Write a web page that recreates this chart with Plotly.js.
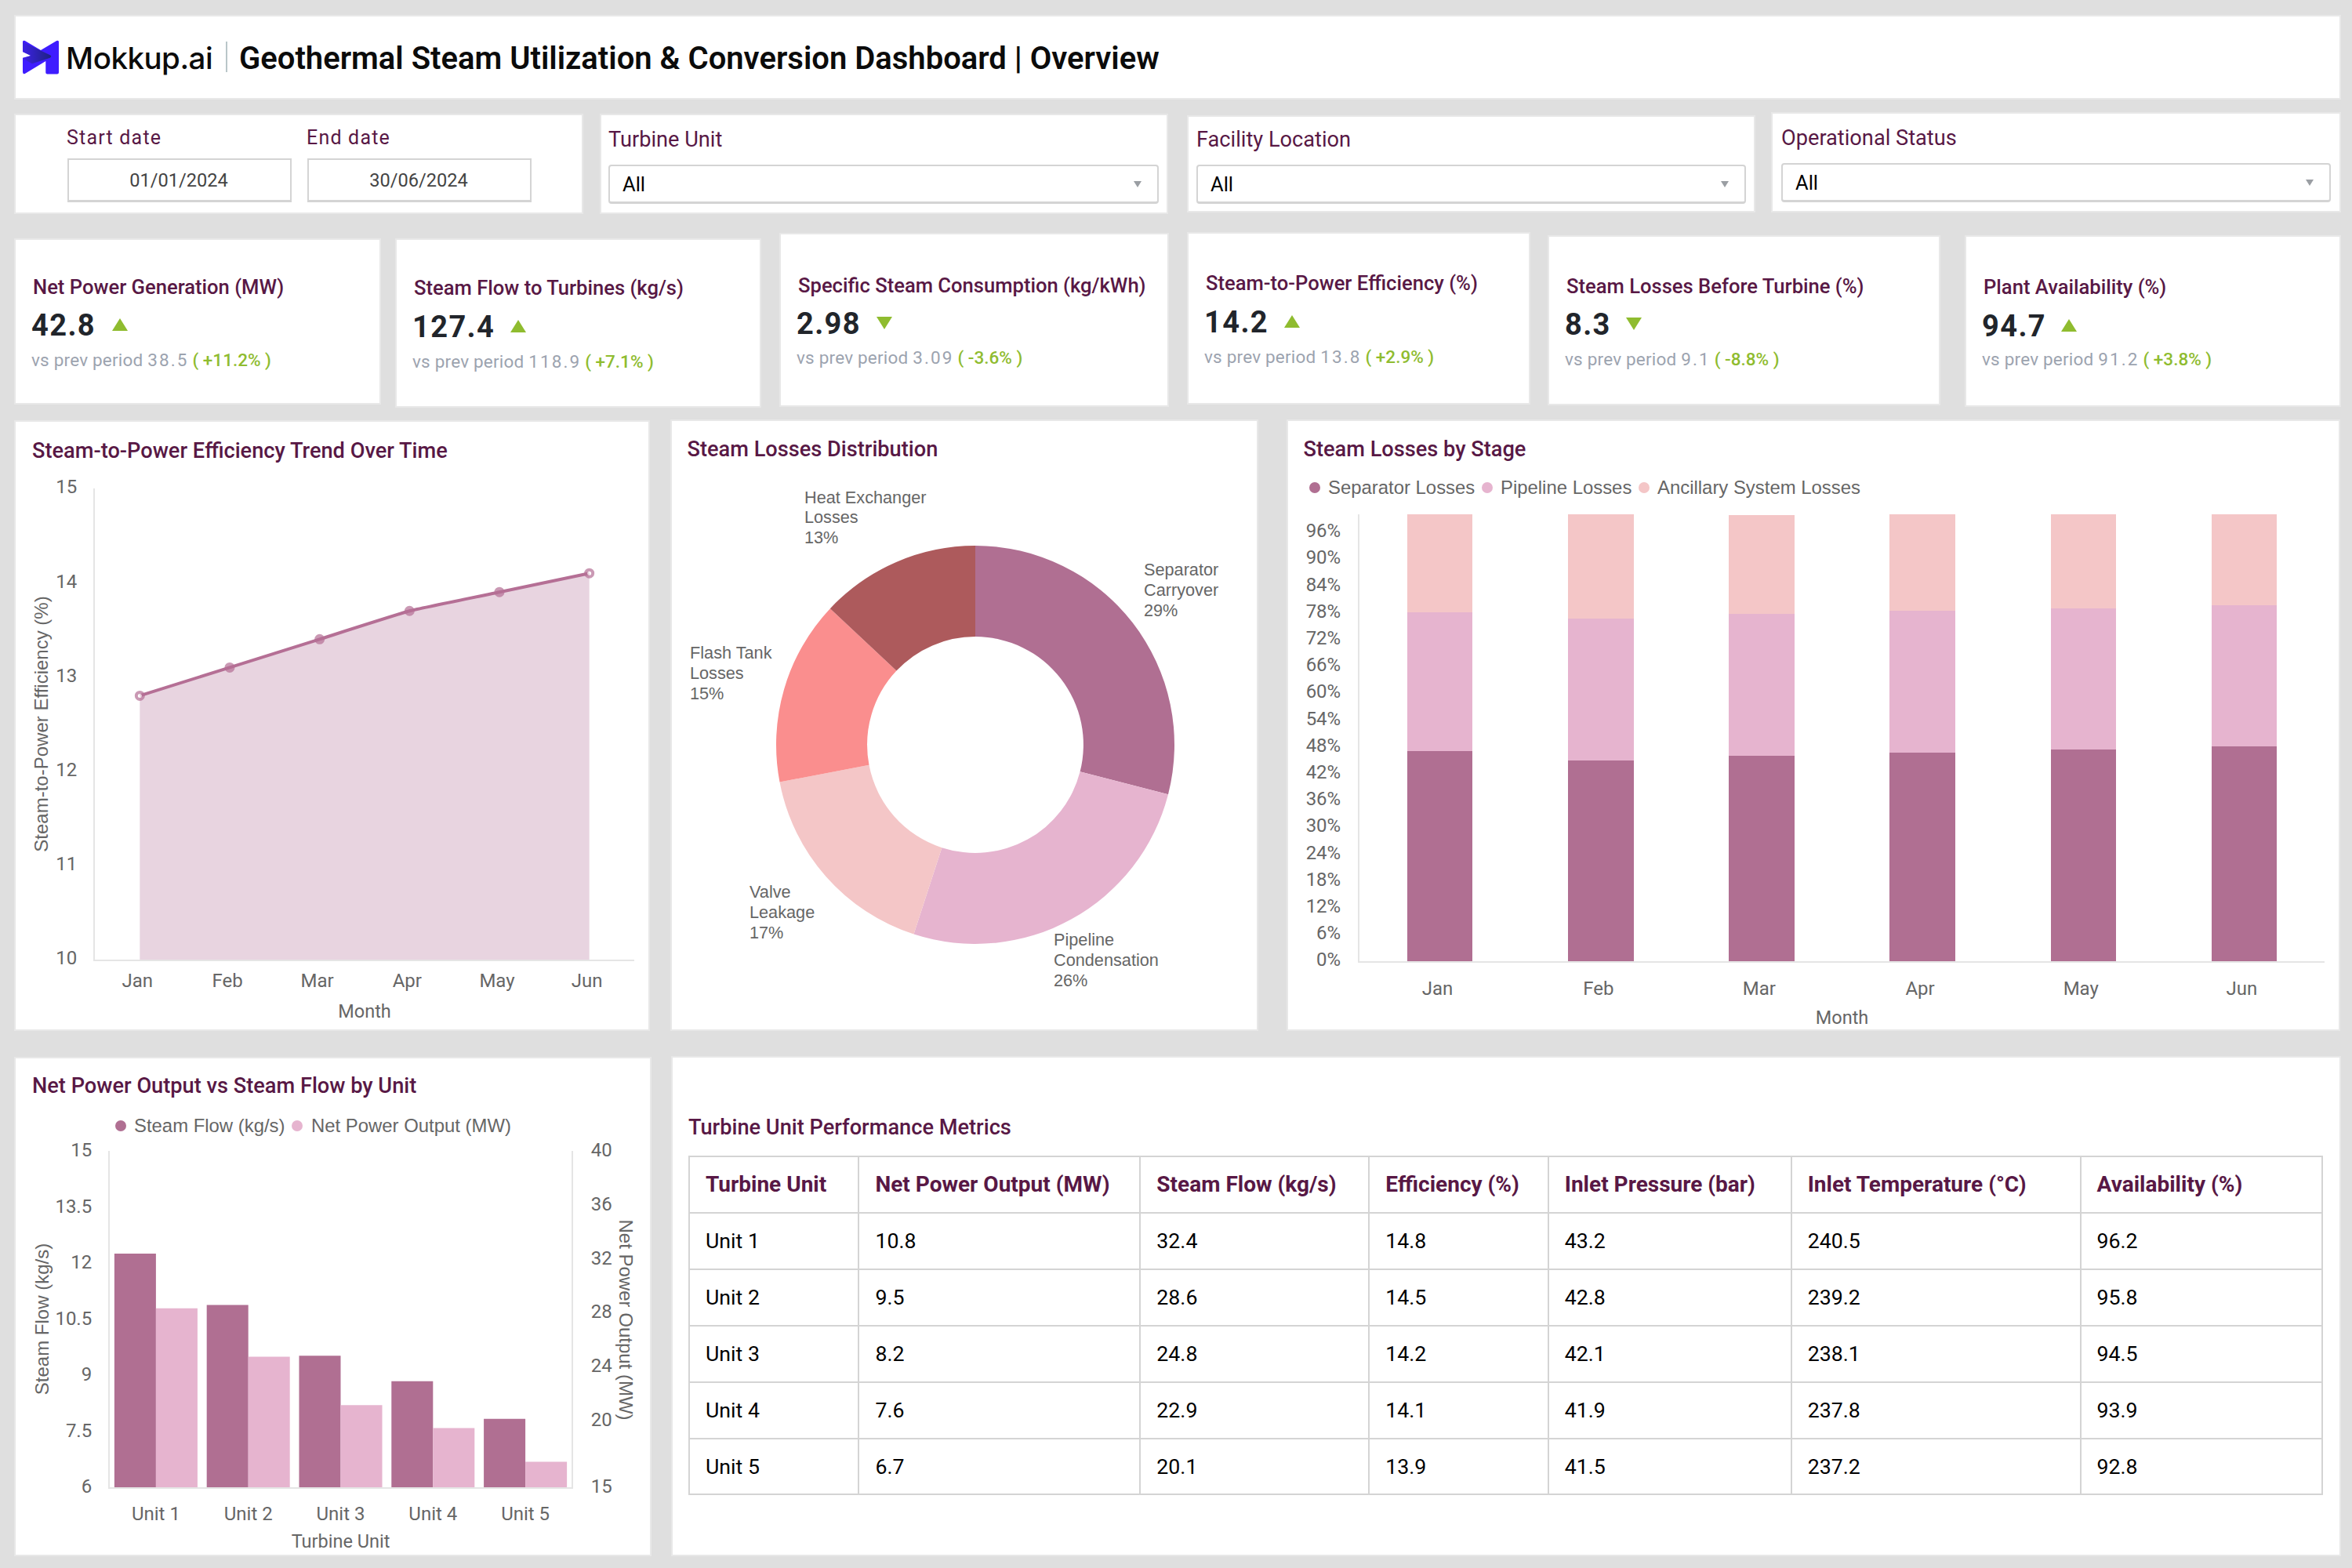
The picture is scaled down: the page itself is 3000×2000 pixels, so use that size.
<!DOCTYPE html>
<html>
<head>
<meta charset="utf-8">
<script src="https://cdn.plot.ly/plotly-3.0.1.min.js"></script>
<style>
html,body{margin:0;padding:0;width:3000px;height:2000px;overflow:hidden;background:#dfdfdf;font-family:Roboto,sans-serif}
.card{position:absolute;background:#fff;border:2px solid #e8e8e8;box-sizing:border-box}
.t{position:absolute;white-space:nowrap;line-height:1;transform:translateY(-50%)}
.box{position:absolute;background:#fff;box-sizing:border-box;border:2px solid #d4d4d4;border-bottom-width:3px}
.plot{position:absolute}
.dot{position:absolute;width:14px;height:14px;border-radius:50%;transform:translate(-50%,-50%)}
.tri{position:absolute;width:0;height:0;border-left:10px solid transparent;border-right:10px solid transparent}
</style>
</head>
<body>
<script>
// ---- data ----
const months = ["Jan","Feb","Mar","Apr","May","Jun"];
const efficiency = [12.8,13.1,13.4,13.7,13.9,14.1];
const lossLabels = ["Separator<br>Carryover","Pipeline<br>Condensation","Valve<br>Leakage","Flash Tank<br>Losses","Heat Exchanger<br>Losses"];
const lossShares = [29,26,17,15,13];
const separatorLosses = [47.0,44.9,45.9,46.7,47.4,48.1];
const pipelineLosses = [31.0,31.8,31.8,31.7,31.6,31.5];
const ancillaryLosses = [22.0,23.3,22.1,21.6,21.0,20.4];
const units = ["Unit 1","Unit 2","Unit 3","Unit 4","Unit 5"];
const steamFlowBars = [12.25,10.88,9.52,8.84,7.83];
const netPowerBars = [28.3,24.7,21.1,19.4,16.9];
const tableHeaders = ["Turbine Unit","Net Power Output (MW)","Steam Flow (kg/s)","Efficiency (%)","Inlet Pressure (bar)","Inlet Temperature (°C)","Availability (%)"];
const tableUnits = ["Unit 1","Unit 2","Unit 3","Unit 4","Unit 5"];
const tableNetPower = ["10.8","9.5","8.2","7.6","6.7"];
const tableSteamFlow = ["32.4","28.6","24.8","22.9","20.1"];
const tableEfficiency = ["14.8","14.5","14.2","14.1","13.9"];
const tablePressure = ["43.2","42.8","42.1","41.9","41.5"];
const tableTemperature = ["240.5","239.2","238.1","237.8","237.2"];
const tableAvailability = ["96.2","95.8","94.5","93.9","92.8"];
const kpiNames = ["Net Power Generation (MW)","Steam Flow to Turbines (kg/s)","Specific Steam Consumption (kg/kWh)","Steam-to-Power Efficiency (%)","Steam Losses Before Turbine (%)","Plant Availability (%)"];
const kpiValues = ["42.8","127.4","2.98","14.2","8.3","94.7"];
const kpiPrev = ["38.5","118.9","3.09","13.8","9.1","91.2"];
const kpiChange = ["+11.2%","+7.1%","-3.6%","+2.9%","-8.8%","+3.8%"];
const kpiUp = [true,true,false,true,false,true];
const filterNames = ["Turbine Unit","Facility Location","Operational Status"];
const filterValue = "All";
const startDate = "01/01/2024", endDate = "30/06/2024";
const dashTitle = "Geothermal Steam Utilization & Conversion Dashboard | Overview";

// ---- colours ----
const PLUM="#581845", GREY="#666666", C1="#b06f92", C2="#e6b4cf", C3="#f4c6c7", C4="#fa8e8e", C5="#ad5a5c", GREEN="#8fbc2f";

// ---- layout helpers ----
const el=(cls,css,html)=>{const d=document.createElement('div');d.className=cls;Object.assign(d.style,css);if(html!==undefined)d.innerHTML=html;document.body.appendChild(d);return d;};
const card=(x0,y0,x1,y1)=>el('card',{left:x0+'px',top:y0+'px',width:(x1-x0)+'px',height:(y1-y0)+'px'});
const txt=(x,y,s,css)=>el('t',Object.assign({left:x+'px',top:y+'px'},css),s);

// header
card(18,19,2986,127);
const logo=el('plot',{left:'29px',top:'50px',width:'46px',height:'46px'},
 '<svg width="46" height="46" viewBox="30 32 132 132" xmlns="http://www.w3.org/2000/svg"><defs><linearGradient id="lg" x1="0" x2="1"><stop offset="0" stop-color="#3d22e6"/><stop offset="1" stop-color="#1d2280"/></linearGradient></defs>'+
 '<path d="M30 42 Q30 34 38 38 L96 72 L154 38 Q162 34 162 42 L162 154 Q162 160 156 160 L120 160 Q114 160 114 154 L114 112 L38 158 Q30 162 30 152 L30 100 L60 92 L30 78 Z" fill="#3f1dff"/>'+
 '<path d="M30 42 L130 90 Q138 95 130 100 L64 122 L30 102 L60 92 L30 78 Z" fill="url(#lg)"/></svg>');
txt(84,74,"Mokkup.ai",{font:"500 38.5px Inter,Roboto,sans-serif",color:"#0b0b0b",letterSpacing:"-0.5px"});
el('plot',{left:'288px',top:'53px',width:'2px',height:'39px',background:'#b9c6c9'});
txt(305,74,dashTitle,{font:"600 40px Roboto",color:"#0b0b0b"});

// filters
card(18,145,744,273); card(765,145,1490,273); card(1514,147,2239,271); card(2259,143,2986,271);
txt(85,175,"Start date",{font:"400 25px Roboto",color:PLUM,letterSpacing:"1.2px"});
txt(391,175,"End date",{font:"400 25px Roboto",color:PLUM,letterSpacing:"1.2px"});
[[86,startDate],[392,endDate]].forEach(([x,s])=>{
  el('box',{left:x+'px',top:'202px',width:'286px',height:'56px'});
  txt(x+142,230,s,{font:"400 23.6px Roboto",color:"#444",transform:"translate(-50%,-50%)"});
});
[[776,178,210,1478],[1526,178,210,2227],[2272,176,208,2973]].forEach(([x,ly,by,xr],i)=>{
  txt(x,ly,filterNames[i],{font:"400 27.2px Roboto",color:PLUM});
  el('box',{left:x+'px',top:by+'px',width:(xr-x)+'px',height:'50px',borderRadius:'4px'});
  txt(x+18,by+25,filterValue,{font:"400 25.5px Roboto",color:"#000"});
  el('tri',{left:(xr-32)+'px',top:(by+21)+'px',borderLeftWidth:'5px',borderRightWidth:'5px',borderTop:'8px solid #9a9ea3'});
});

// KPI cards
const kpiRect=[[18,304,486,516],[504,304,971,520],[994,297,1491,519],[1514,296,1952,516],[1974,300,2475,517],[2506,300,2986,519]];
const kpiX=[42,528,1018,1538,1998,2530];
const kpiLabelY=[365.5,367,364,361,364.5,366];
const kpiValueY=[415,417,413,411,414,416];
const kpiSubY=[458.5,460.5,455.5,454.5,457.5,457.5];
const kpiArrowX=[143,651,1118,1638,2074,2629];
kpiNames.forEach((n,i)=>{
  card(...kpiRect[i]);
  const x=kpiX[i];
  txt(x,kpiLabelY[i],n,{font:"500 25.6px Roboto",color:PLUM});
  txt(x-2,kpiValueY[i],kpiValues[i],{font:"700 38px Roboto",color:"#21252b",letterSpacing:"1.4px"});
  el('tri',Object.assign({left:kpiArrowX[i]+'px',top:(kpiValueY[i]-9)+'px'},
     kpiUp[i]?{borderBottom:'16px solid '+GREEN}:{borderTop:'16px solid '+GREEN}));
  txt(x-2,kpiSubY[i],'vs prev period <span style="letter-spacing:2.1px">'+kpiPrev[i]+'</span><span style="color:'+GREEN+';font-weight:500;letter-spacing:0;margin-left:5px">( '+kpiChange[i]+' )</span>',
      {font:"400 22.5px Roboto",color:"#9ca3af",letterSpacing:"0.2px"});
});

// chart panels
const P1=[18,536,829,1315], P2=[855,535,1605,1315], P3=[1641,535,2985,1315], P4=[18,1348,831,1985], P5=[856,1347,2986,1985];
[P1,P2,P3,P4,P5].forEach(p=>card(...p));
const plotDiv=p=>el('plot',{left:p[0]+'px',top:p[1]+'px',width:(p[2]-p[0])+'px',height:(p[3]-p[1])+'px'});
const titleOf=(text,p,x,y)=>({text:text,x:(x-p[0])/(p[2]-p[0]),xref:'container',xanchor:'left',y:1-(y-p[1])/(p[3]-p[1]),yref:'container',yanchor:'middle',font:{family:'Roboto',size:27.2,weight:500,color:PLUM}});
const axisBase={showgrid:false,zeroline:false,showline:true,linecolor:'#e5e5e5',linewidth:2,tickfont:{family:'Roboto',size:24,color:GREY},ticks:'outside',tickcolor:'rgba(0,0,0,0)'};
const axTitleA=(t,st)=>({text:t,font:{family:'"Liberation Sans"',size:24,color:GREY},standoff:st});
const axTitleR=(t,st)=>({text:t,font:{family:'Roboto',size:23.5,color:GREY},standoff:st});
const cfg={displayModeBar:false,staticPlot:true};
const baseLayout=p=>({width:p[2]-p[0],height:p[3]-p[1],paper_bgcolor:'rgba(0,0,0,0)',plot_bgcolor:'rgba(0,0,0,0)',showlegend:false,font:{family:'Roboto',color:GREY}});

// Efficiency trend
Plotly.newPlot(plotDiv(P1),[{
  type:'scatter',mode:'lines+markers',x:months,y:efficiency,fill:'tozeroy',fillcolor:'#e8d4e0',
  line:{color:'#b56f95',width:4,shape:'spline',smoothing:0.25},
  marker:{size:[9,10,10,10,10,9],color:['#ffffff','#b56f95','#b56f95','#b56f95','#b56f95','#ffffff'],line:{color:'#b56f95',width:[4,3,3,3,3,4]}}
}],Object.assign(baseLayout(P1),{
  title:titleOf("Steam-to-Power Efficiency Trend Over Time",P1,41,574),
  margin:{l:121-P1[0],r:P1[2]-809,t:623-P1[1],b:P1[3]-1224},
  xaxis:Object.assign({},axisBase,{type:'category',ticklen:4,ticklabelshift:-3,range:[-0.5,5.5],title:axTitleR("Month",18)}),
  yaxis:Object.assign({},axisBase,{range:[10,15],dtick:1,ticklen:16,ticklabelshift:-2,title:axTitleA("Steam-to-Power Efficiency (%)",3)})
}),cfg);

// Donut
const dCx=1244,dCy=950,dR=254,P2w=P2[2]-P2[0],P2h=P2[3]-P2[1];
const labelAnchors=[[1458,726.5],[1342.5,1198.5],[955,1137.5],[879,832.5],[1025,634]];
const pieAnn=[];
lossLabels.forEach((l,i)=>{
  l.split('<br>').concat([lossShares[i]+'%']).forEach((line,j)=>{
    pieAnn.push({text:line,xref:'paper',yref:'paper',xanchor:'left',yanchor:'middle',showarrow:false,align:'left',borderpad:0,
      x:(labelAnchors[i][0]-P2[0])/P2w,y:1-(labelAnchors[i][1]+j*26-P2[1])/P2h,font:{family:'"Liberation Sans"',size:21.7,color:'#666666'}});
  });
});
Plotly.newPlot(plotDiv(P2),[{
  type:'pie',labels:lossLabels,values:lossShares,hole:0.543,sort:false,direction:'clockwise',rotation:0,textinfo:'none',
  marker:{colors:[C1,C2,C3,C4,C5],line:{width:0}},
  domain:{x:[(dCx-dR-P2[0])/P2w,(dCx+dR-P2[0])/P2w],y:[1-(dCy+dR-P2[1])/P2h,1-(dCy-dR-P2[1])/P2h]}
}],Object.assign(baseLayout(P2),{
  title:titleOf("Steam Losses Distribution",P2,876.5,572),
  margin:{l:0,r:0,t:0,b:0},annotations:pieAnn
}),cfg);

// Stacked bars
const barC=(n,y,c)=>({type:'bar',name:n,x:months,y:y,marker:{color:c,line:{width:0}}});
Plotly.newPlot(plotDiv(P3),[barC("Separator Losses",separatorLosses,C1),barC("Pipeline Losses",pipelineLosses,C2),barC("Ancillary System Losses",ancillaryLosses,C3)],
Object.assign(baseLayout(P3),{
  title:titleOf("Steam Losses by Stage",P3,1662.5,572),
  margin:{l:1734-P3[0],r:P3[2]-2965,t:656-P3[1],b:P3[3]-1226},
  barmode:'stack',bargap:0.593,
  xaxis:Object.assign({},axisBase,{type:'category',ticklen:12,ticklabelshift:-3,title:axTitleR("Month",16)}),
  yaxis:Object.assign({},axisBase,{range:[0,100],dtick:6,ticksuffix:'%',ticklen:17,ticklabelshift:-2})
}),cfg);
const legend=(items)=>items.forEach(([dx,tx,y,c,s])=>{
  el('dot',{left:dx+'px',top:y+'px',background:c});
  txt(tx,y,s,{font:'400 23.9px "Liberation Sans"',color:GREY});
});
legend([[1677,1694,621.5,C1,"Separator Losses"],[1897,1914,621.5,C2,"Pipeline Losses"],[2097,2114,621.5,C3,"Ancillary System Losses"]]);

// Grouped bars on two axes
Plotly.newPlot(plotDiv(P4),[
 {type:'bar',name:"Steam Flow (kg/s)",x:units,y:steamFlowBars,yaxis:'y',width:0.45,offset:-0.45,marker:{color:C1,line:{width:0}}},
 {type:'bar',name:"Net Power Output (MW)",x:units,y:netPowerBars,yaxis:'y2',width:0.45,offset:0,marker:{color:C2,line:{width:0}}}
],Object.assign(baseLayout(P4),{
  title:titleOf("Net Power Output vs Steam Flow by Unit",P4,41,1384),
  margin:{l:140-P4[0],r:P4[2]-729,t:1468-P4[1],b:P4[3]-1897},
  xaxis:Object.assign({},axisBase,{type:'category',ticklen:11,title:axTitleR("Turbine Unit",14)}),
  yaxis:Object.assign({},axisBase,{range:[6,15],tickvals:[6,7.5,9,10.5,12,13.5,15],ticktext:["6","7.5","9","10.5","12","13.5","15"],ticklen:16,ticklabelshift:-1,title:axTitleA("Steam Flow (kg/s)",1)}),
  yaxis2:Object.assign({},axisBase,{overlaying:'y',side:'right',range:[15,40],tickvals:[15,20,24,28,32,36,40],ticklen:18,ticklabelshift:-1}),
  annotations:[{text:"Net Power Output (MW)",textangle:90,xref:'paper',yref:'paper',x:1,y:0.5,xanchor:'center',yanchor:'middle',xshift:798-729,yshift:-1,showarrow:false,font:{family:'"Liberation Sans"',size:24,color:GREY}}]
}),cfg);
legend([[154,171,1435.5,C1,"Steam Flow (kg/s)"],[379.4,397,1435.5,C2,"Net Power Output (MW)"]]);

// Table
const P5w=P5[2]-P5[0],P5h=P5[3]-P5[1];
const d5=plotDiv(P5);
Plotly.newPlot(d5,[{
  type:'table',columnwidth:[216.5,359,292,228.5,310,369,308.5],
  domain:{x:[(879-P5[0])/P5w,(2962.5-P5[0])/P5w],y:[1-(1908-P5[1])/P5h,1-(1475-P5[1])/P5h]},
  header:{values:tableHeaders.map(s=>'<b>'+s+'</b>'),height:71.9,align:'left',line:{color:'#d4d4d4',width:2},fill:{color:'#ffffff'},font:{family:'Roboto',size:28,color:PLUM}},
  cells:{values:[tableUnits,tableNetPower,tableSteamFlow,tableEfficiency,tablePressure,tableTemperature,tableAvailability],height:71.9,align:'left',line:{color:'#d4d4d4',width:2},fill:{color:'#ffffff'},font:{family:'Roboto',size:26.7,color:'#000000'}}
}],Object.assign(baseLayout(P5),{
  title:titleOf("Turbine Unit Performance Metrics",P5,878,1437),
  margin:{l:0,r:0,t:0,b:0}
}),{displayModeBar:false}).then(()=>{
  const fix=()=>d5.querySelectorAll('.cell-text').forEach(t=>{
    const isHead=tableHeaders.includes(t.textContent.trim());
    t.setAttribute('transform',isHead?'translate(13,11)':'translate(13,17)');
  });
  fix();setTimeout(fix,50);setTimeout(fix,300);
});
</script>
</body>
</html>
